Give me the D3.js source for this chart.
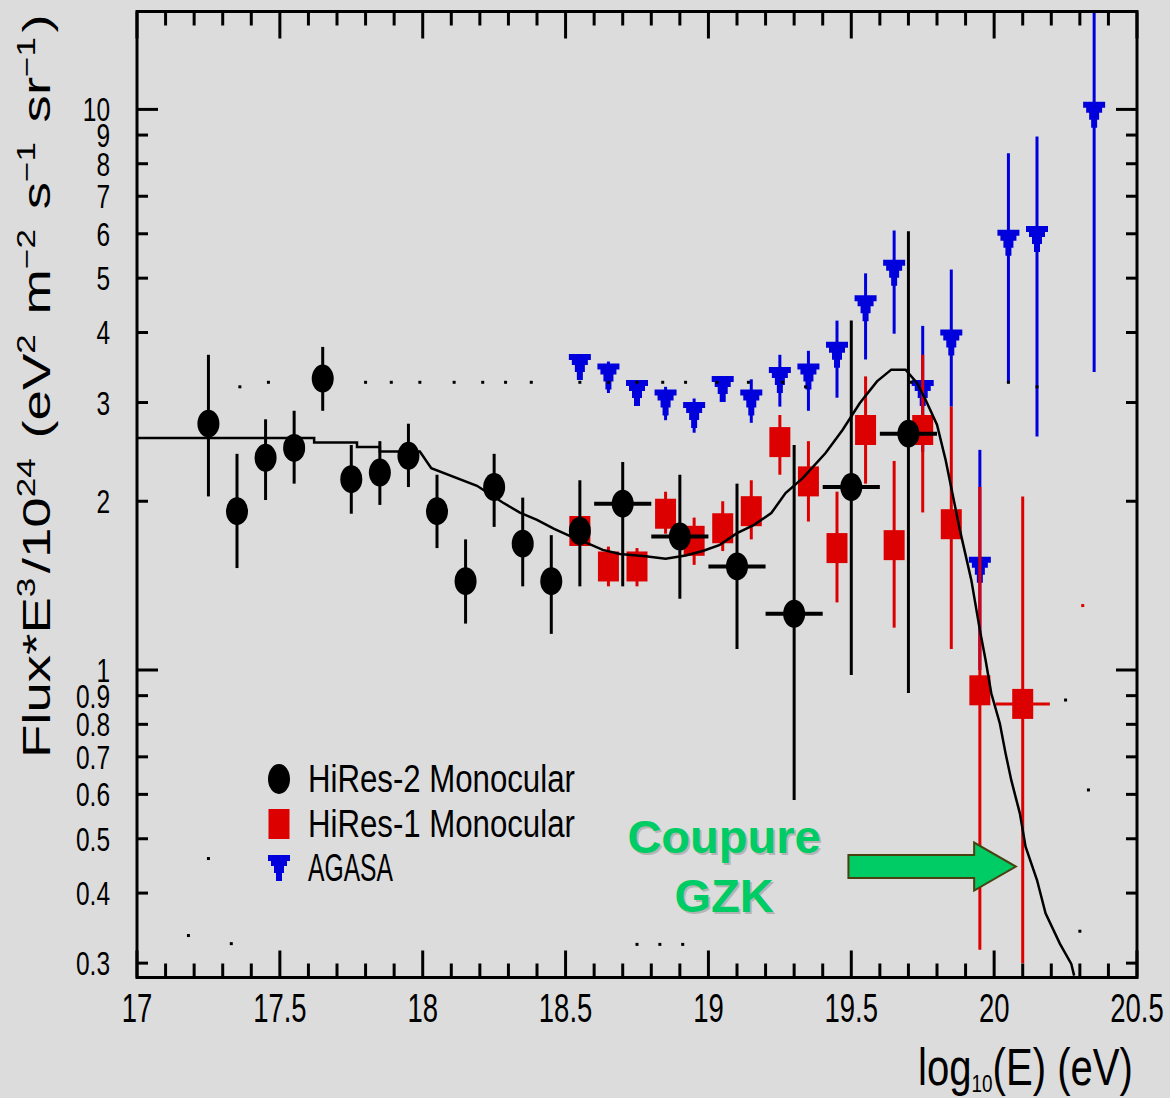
<!DOCTYPE html>
<html>
<head>
<meta charset="utf-8">
<script src="https://d3js.org/d3.v7.min.js"></script>
<style>
  html, body { margin: 0; padding: 0; background: #dcdcdc; }
  svg { display: block; }
  text { font-family: "Liberation Sans", Arial, sans-serif; }
</style>
</head>
<body>
<svg id="chart" width="1170" height="1098"></svg>
<script>
// ---- data ----
// HiRes-2 monocular (black)
const hires2E    = [17.25, 17.35, 17.45, 17.55, 17.65, 17.75, 17.85, 17.95, 18.05, 18.15, 18.25, 18.35, 18.45, 18.55, 18.7, 18.9, 19.1, 19.3, 19.5, 19.7];
const hires2Flux = [2.75, 1.92, 2.39, 2.49, 3.31, 2.19, 2.25, 2.41, 1.92, 1.44, 2.12, 1.68, 1.44, 1.77, 1.98, 1.73, 1.53, 1.26, 2.12, 2.64];
const hires2Hi   = [3.65, 2.43, 2.80, 2.90, 3.77, 2.52, 2.56, 2.75, 2.23, 1.71, 2.43, 2.03, 1.74, 2.18, 2.35, 2.23, 2.15, 2.52, 4.20, 6.06];
const hires2Lo   = [2.04, 1.52, 2.01, 2.15, 2.90, 1.90, 1.97, 2.12, 1.65, 1.21, 1.80, 1.41, 1.16, 1.41, 1.41, 1.34, 1.09, 0.586, 0.98, 0.91];
const hires2dE   = [0, 0, 0, 0, 0, 0, 0, 0, 0, 0, 0, 0, 0, 0, 0.1, 0.1, 0.1, 0.1, 0.1, 0.1];

// HiRes-1 monocular (red)
const hires1E    = [18.55, 18.65, 18.75, 18.85, 18.95, 19.05, 19.15, 19.25, 19.35, 19.45, 19.55, 19.65, 19.75, 19.85, 19.95, 20.1];
const hires1Flux = [1.77, 1.53, 1.53, 1.90, 1.70, 1.79, 1.92, 2.55, 2.17, 1.65, 2.68, 1.67, 2.68, 1.82, 0.92, 0.87];
const hires1Hi   = [1.85, 1.66, 1.65, 2.08, 1.87, 2.00, 2.18, 2.85, 2.56, 2.08, 3.34, 2.36, 3.65, 2.95, 2.12, 2.04];
const hires1Lo   = [1.70, 1.41, 1.41, 1.75, 1.54, 1.63, 1.71, 2.23, 1.84, 1.32, 2.15, 1.19, 1.91, 1.09, 0.317, 0.30];
const hires1dE   = [0, 0, 0, 0, 0, 0, 0, 0, 0, 0, 0, 0, 0, 0, 0, 0.095];

// AGASA (blue)
const agasaE    = [18.55, 18.65, 18.75, 18.85, 18.95, 19.05, 19.15, 19.25, 19.35, 19.45, 19.55, 19.65, 19.75, 19.85, 19.95, 20.05, 20.15, 20.35];
const agasaFlux = [3.47, 3.34, 3.12, 3.00, 2.85, 3.17, 3.00, 3.29, 3.34, 3.65, 4.42, 5.11, 3.12, 3.84, 1.51, 5.78, 5.87, 9.78];
const agasaHi   = [3.47, 3.55, 3.12, 3.20, 3.05, 3.17, 3.30, 3.65, 3.71, 4.20, 5.10, 6.08, 4.11, 5.18, 2.47, 8.35, 8.95, 20];
const agasaLo   = [3.47, 3.12, 3.12, 2.79, 2.65, 3.17, 2.76, 2.95, 2.90, 3.06, 3.58, 3.98, 2.45, 2.95, 1.00, 3.25, 2.61, 3.40];

// model curve
const curveE    = [17.0, 17.62, 17.62, 17.77, 17.77, 17.85, 17.85, 17.99, 18.03, 18.19, 18.28, 18.34, 18.40, 18.46, 18.52, 18.59, 18.63, 18.69, 18.78, 18.85, 18.92, 18.98, 19.04, 19.10, 19.16, 19.22, 19.27, 19.33, 19.41, 19.47, 19.53, 19.59, 19.64, 19.69, 19.73, 19.76, 19.80, 19.83, 19.88, 19.92, 19.95, 19.97, 19.99, 20.02, 20.04, 20.06, 20.09, 20.11, 20.15, 20.18, 20.23, 20.27, 20.28];
const curveFlux = [2.593, 2.593, 2.546, 2.546, 2.499, 2.499, 2.454, 2.454, 2.29, 2.131, 1.990, 1.909, 1.853, 1.785, 1.730, 1.672, 1.638, 1.611, 1.595, 1.580, 1.600, 1.630, 1.672, 1.754, 1.815, 1.905, 2.068, 2.199, 2.438, 2.683, 2.994, 3.272, 3.434, 3.434, 3.251, 3.035, 2.738, 2.371, 1.778, 1.448, 1.179, 1.042, 0.909, 0.803, 0.710, 0.636, 0.555, 0.484, 0.422, 0.368, 0.325, 0.299, 0.285];

// stray specks in the scan
const dotRowE   = [17.36, 17.46, 17.80, 17.89, 17.99, 18.11, 18.21, 18.29, 18.38, 18.55, 18.65, 18.75, 18.84, 18.92, 19.03, 19.14, 19.26, 19.34, 19.71, 20.05, 20.15];
const dotRowFlux = [3.20, 3.26, 3.26, 3.26, 3.26, 3.26, 3.26, 3.26, 3.26, 3.26, 3.26, 3.26, 3.26, 3.26, 3.26, 3.26, 3.26, 3.20, 3.26, 3.26, 3.20];
const specksE    = [17.25, 17.18, 17.33, 18.75, 18.83, 18.91, 20.25, 20.33, 20.30, 20.31];
const specksFlux = [0.461, 0.336, 0.325, 0.324, 0.324, 0.324, 0.884, 0.611, 0.342, 1.303];
const specksCol  = ["#000", "#000", "#000", "#000", "#000", "#000", "#000", "#000", "#000", "#dd0000"];

// axes
const xMajorTicks = [17, 17.5, 18, 18.5, 19, 19.5, 20, 20.5];
const xTickLabels = ["17", "17.5", "18", "18.5", "19", "19.5", "20", "20.5"];
const yTickValues = [0.3, 0.4, 0.5, 0.6, 0.7, 0.8, 0.9, 1, 2, 3, 4, 5, 6, 7, 8, 9, 10];
const yTickLabels = ["0.3", "0.4", "0.5", "0.6", "0.7", "0.8", "0.9", "1", "2", "3", "4", "5", "6", "7", "8", "9", "10"];
const yMajorTicks = [1, 10];

// legend + annotation
const legendNames = ["HiRes-2 Monocular", "HiRes-1 Monocular", "AGASA"];
const arrowE = [19.49, 19.93, 20.076];   // tail, head base, tip
const arrowFlux = 0.446;

// ---- chart ----
const svg = d3.select("#chart");
const pLeft = 137, pRight = 1137, pTop = 11.5, pBottom = 977.5;

const x = d3.scaleLinear().domain([17, 20.5]).range([pLeft, pRight]);
const y = d3.scaleLog().domain([0.2828, 14.95]).range([pBottom, pTop]);

svg.append("rect").attr("width", 1170).attr("height", 1098).attr("fill", "#dcdcdc");

svg.append("clipPath").attr("id", "plotclip")
  .append("rect").attr("x", pLeft).attr("y", pTop).attr("width", pRight - pLeft).attr("height", pBottom - pTop);

const plot = svg.append("g").attr("clip-path", "url(#plotclip)");

const zip = (E, F, Lo, Hi, dE) => E.map((e, i) => ({ e: e, f: F[i], lo: Lo[i], hi: Hi[i], de: dE ? dE[i] : 0 }));
const agasa = zip(agasaE, agasaFlux, agasaLo, agasaHi);
const hires1 = zip(hires1E, hires1Flux, hires1Lo, hires1Hi, hires1dE);
const hires2 = zip(hires2E, hires2Flux, hires2Lo, hires2Hi, hires2dE);

// stepped down-triangle like the bitmap marker
const triPath = "M-11,-13H11V-7H8V-2H5V5H3V13H-3V5H-5V-2H-8V-7H-11Z";

function errorBars(g, data, color, hw) {
  g.selectAll(null).data(data.filter(d => d.hi > d.lo)).enter().append("line")
    .attr("x1", d => x(d.e)).attr("x2", d => x(d.e))
    .attr("y1", d => y(d.hi)).attr("y2", d => y(d.lo))
    .attr("stroke", color).attr("stroke-width", 3);
  g.selectAll(null).data(data.filter(d => d.de > 0)).enter().append("line")
    .attr("x1", d => x(d.e - d.de)).attr("x2", d => x(d.e + d.de))
    .attr("y1", d => y(d.f)).attr("y2", d => y(d.f))
    .attr("stroke", color).attr("stroke-width", hw);
}

// AGASA
const gA = plot.append("g");
errorBars(gA, agasa, "#0000dd", 3);
gA.selectAll(null).data(agasa).enter().append("path")
  .attr("d", triPath)
  .attr("transform", d => `translate(${x(d.e)},${y(d.f)})`)
  .attr("fill", "#0000dd");

// HiRes-1
const gR = plot.append("g");
errorBars(gR, hires1, "#dd0000", 3);
gR.selectAll(null).data(hires1).enter().append("rect")
  .attr("x", d => x(d.e) - 10.5).attr("y", d => y(d.f) - 15)
  .attr("width", 21).attr("height", 30)
  .attr("fill", "#dd0000");

// HiRes-2
const gB = plot.append("g");
errorBars(gB, hires2, "#000", 4);
gB.selectAll(null).data(hires2).enter().append("ellipse")
  .attr("cx", d => x(d.e)).attr("cy", d => y(d.f))
  .attr("rx", 11).attr("ry", 14)
  .attr("fill", "#000");

// model curve
const line = d3.line().x(d => x(d[0])).y(d => y(d[1]));
plot.append("path")
  .datum(curveE.map((e, i) => [e, curveFlux[i]]))
  .attr("d", line)
  .attr("fill", "none").attr("stroke", "#000").attr("stroke-width", 2.5);

// specks
plot.selectAll(null).data(dotRowE.map((e, i) => [e, dotRowFlux[i], "#000"])
    .concat(specksE.map((e, i) => [e, specksFlux[i], specksCol[i]])))
  .enter().append("rect")
  .attr("x", d => x(d[0]) - 1.5).attr("y", d => y(d[1]) - 1.5)
  .attr("width", 3).attr("height", 3).attr("fill", d => d[2]);

// frame and ticks
const axes = svg.append("g").attr("stroke", "#000").attr("stroke-width", 3);
axes.append("rect").attr("x", pLeft).attr("y", pTop).attr("width", pRight - pLeft).attr("height", pBottom - pTop)
  .attr("fill", "none");

const xMinor = d3.range(17, 20.5001, 0.1).map(v => Math.round(v * 10) / 10);
xMinor.forEach(v => {
  const len = xMajorTicks.includes(v) ? 27 : 14;
  axes.append("line").attr("x1", x(v)).attr("x2", x(v)).attr("y1", pBottom).attr("y2", pBottom - len);
  axes.append("line").attr("x1", x(v)).attr("x2", x(v)).attr("y1", pTop).attr("y2", pTop + len);
});
yTickValues.forEach(v => {
  const len = yMajorTicks.includes(v) ? 21 : 11;
  axes.append("line").attr("x1", pLeft).attr("x2", pLeft + len).attr("y1", y(v)).attr("y2", y(v));
  axes.append("line").attr("x1", pRight).attr("x2", pRight - len).attr("y1", y(v)).attr("y2", y(v));
});

// tick labels (narrow, squeezed)
const sx = 0.67;
svg.selectAll(null).data(xMajorTicks).enter().append("text")
  .attr("transform", d => `translate(${x(d)},1022) scale(${sx},1)`)
  .attr("text-anchor", "middle").attr("font-size", 41)
  .text((d, i) => xTickLabels[i]);

svg.selectAll(null).data(yTickValues).enter().append("text")
  .attr("transform", d => `translate(110,${y(d) + 12}) scale(0.72,1)`)
  .attr("text-anchor", "end").attr("font-size", 34)
  .text((d, i) => yTickLabels[i]);

function fitWidth(t, w) {
  const bw = t.node().getBBox().width;
  t.attr("transform", `scale(${w / bw},1)`);
}

// x title
const xt = svg.append("g").attr("transform", "translate(918,1085)")
  .append("text").attr("font-size", 51);
xt.append("tspan").text("log");
xt.append("tspan").attr("font-size", 24).attr("dy", 7).text("10");
xt.append("tspan").attr("dy", -7).text("(E) (eV)");
fitWidth(xt, 215);

// y title
const yt = svg.append("g").attr("transform", "translate(50,758) rotate(-90)")
  .append("text").attr("font-size", 39);
const supParts = [["Flux*E", "3"], ["/10", "24"], [" (eV", "2"], [" m", "\u22122"], [" s", "\u22121"], [" sr", "\u22121"]];
supParts.forEach(p => {
  yt.append("tspan").text(p[0]);
  yt.append("tspan").attr("font-size", 25).attr("dy", -15).text(p[1]);
  yt.append("tspan").attr("dy", 15).text("\u200a");
});
yt.append("tspan").text(")");
fitWidth(yt, 744);

// legend
const legY = [779, 824, 868];
const leg = svg.append("g");
leg.append("ellipse").attr("cx", 279).attr("cy", legY[0]).attr("rx", 11).attr("ry", 15).attr("fill", "#000");
leg.append("rect").attr("x", 268.5).attr("y", legY[1] - 15).attr("width", 21).attr("height", 30).attr("fill", "#dd0000");
leg.append("path").attr("d", triPath).attr("transform", `translate(279,${legY[2]})`).attr("fill", "#0000dd");
const legW = [267, 267, 85];
legendNames.forEach((n, i) => {
  const t = leg.append("g").attr("transform", `translate(308,${legY[i] + 13})`)
    .append("text").attr("font-size", 39).text(n);
  fitWidth(t, legW[i]);
});

// GZK annotation
const ann = svg.append("g");
[["Coupure", 853], ["GZK", 912]].forEach(p => {
  ann.append("text").attr("x", 726).attr("y", p[1] + 2).attr("text-anchor", "middle")
    .attr("font-size", 47).attr("font-weight", "bold").attr("fill", "#b4b4b4").text(p[0]);
  ann.append("text").attr("x", 724).attr("y", p[1]).attr("text-anchor", "middle")
    .attr("font-size", 47).attr("font-weight", "bold").attr("fill", "#00cc66").text(p[0]);
});
const ay = y(arrowFlux);
const arrowPts = [
  [x(arrowE[0]), ay - 11.5], [x(arrowE[1]), ay - 11.5], [x(arrowE[1]), ay - 24],
  [x(arrowE[2]), ay], [x(arrowE[1]), ay + 24], [x(arrowE[1]), ay + 11.5], [x(arrowE[0]), ay + 11.5]
];
ann.append("polygon")
  .attr("points", arrowPts.map(p => p.join(",")).join(" "))
  .attr("fill", "#00cc66").attr("stroke", "#4a4010").attr("stroke-width", 2);
</script>
</body>
</html>
